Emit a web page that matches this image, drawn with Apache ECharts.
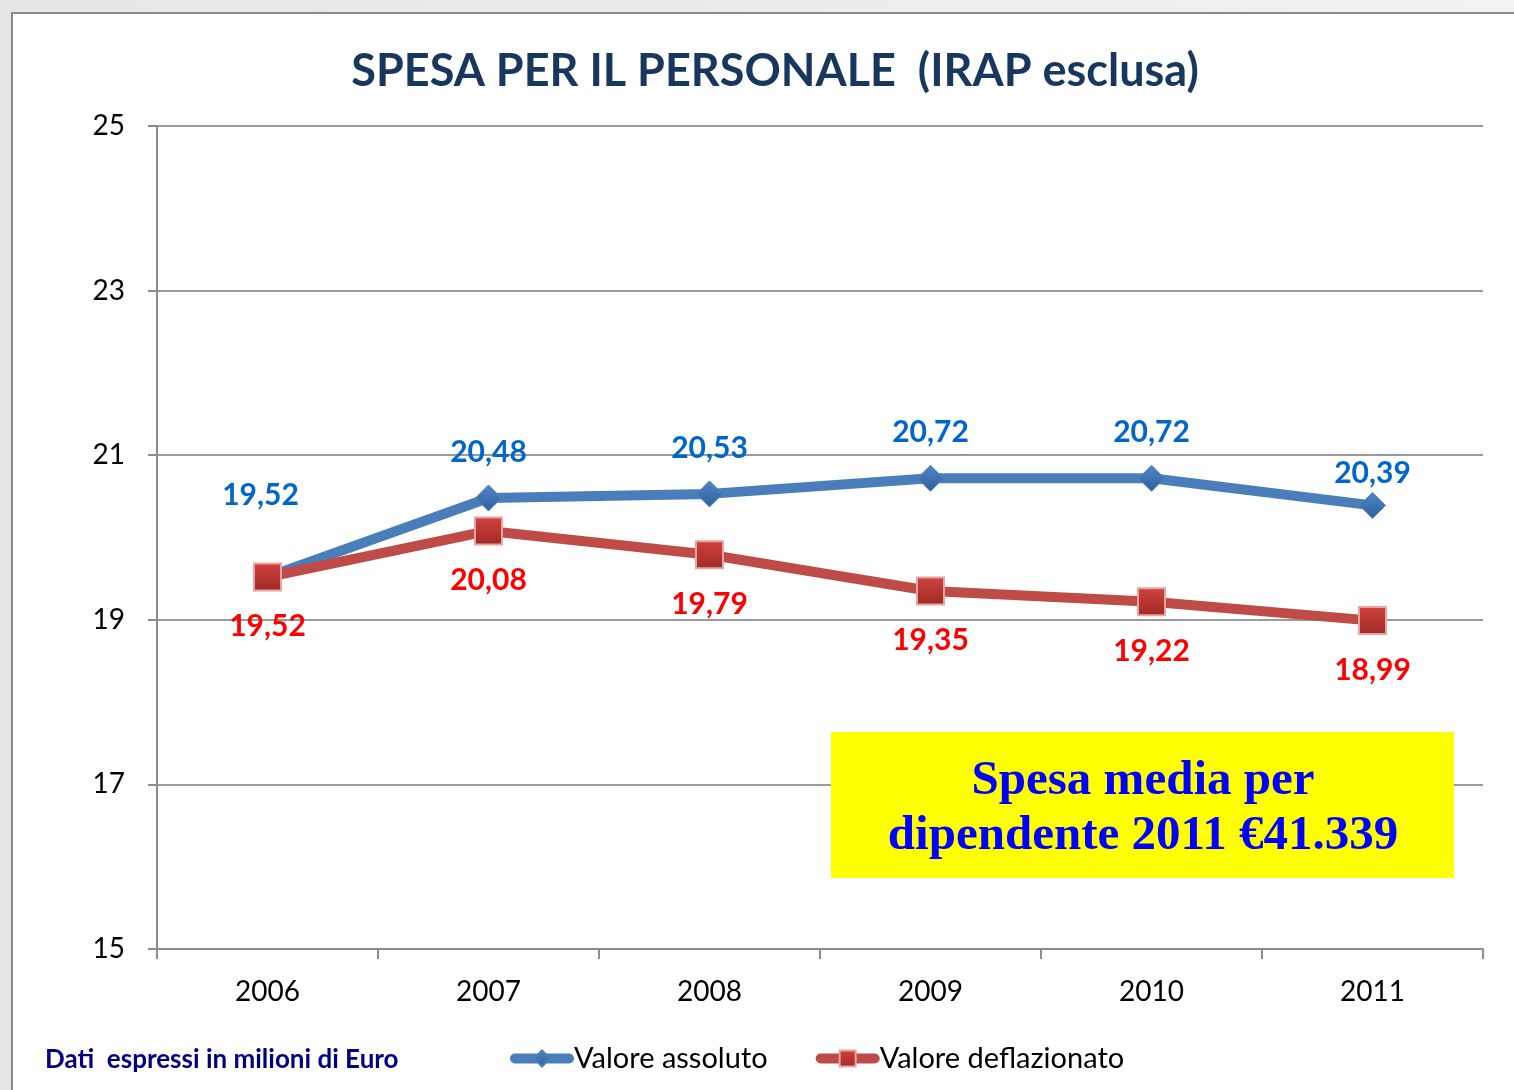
<!DOCTYPE html>
<html><head><meta charset="utf-8">
<script src="https://cdn.jsdelivr.net/npm/echarts@6/dist/echarts.min.js"></script>
<style>
html,body{margin:0;padding:0;width:1514px;height:1090px;overflow:hidden;background:linear-gradient(90deg,#e6e6e6,#f2f2f2);}
#frame{position:absolute;left:11px;top:12px;width:1510px;height:1090px;background:#fff;border-left:2px solid #8a8a8a;border-top:2px solid #8a8a8a;}
#chart{position:absolute;left:0;top:0;width:1514px;height:1090px;}
</style></head>
<body><div id="frame"></div><div id="chart"></div>
<script>
const categories = ['2006','2007','2008','2009','2010','2011'];
const valoreAssoluto = [19.52, 20.48, 20.53, 20.72, 20.72, 20.39];
const valoreDeflazionato = [19.52, 20.08, 19.79, 19.35, 19.22, 18.99];
const seriesNames = ['Valore assoluto', 'Valore deflazionato'];
const titleText = 'SPESA PER IL PERSONALE  (IRAP esclusa)';
const noteText = 'Dati  espressi in milioni di Euro';
const boxLines = ['Spesa media per', 'dipendente 2011 €41.339'];

const fmt = v => v.toFixed(2).replace('.', ',');
const chart = echarts.init(document.getElementById('chart'));
const font = 'Lato, "Open Sans", sans-serif';

const blueData = valoreAssoluto.map((v, i) => {
  if (i === 0) return {value: v, label: {offset: [-7, -36]}};
  if (i === categories.length - 1) return {value: v, label: {offset: [0, 13]}};
  return v;
});

chart.setOption({
  animation: false,
  title: {
    text: titleText, left: 770, textAlign: 'center', top: 44,
    textStyle: {fontFamily: font, fontWeight: 'bold', fontSize: 45, color: '#17375e'}
  },
  grid: {left: 157, right: 31, top: 126, bottom: 141},
  legend: {
    data: seriesNames, left: 505, top: 1039, itemWidth: 54, itemHeight: 20, itemGap: 48,
    lineStyle: {width: 10, cap: 'round'},
    textStyle: {fontFamily: font, fontSize: 29, color: '#000', padding: [0, 0, 0, 0]}
  },
  xAxis: {
    type: 'category', data: categories, boundaryGap: true,
    axisLine: {lineStyle: {color: '#8c8c8c', width: 2}},
    axisTick: {show: true, length: 10, lineStyle: {color: '#8c8c8c', width: 2}},
    axisLabel: {margin: 29, fontFamily: font, fontSize: 28, color: '#000'}
  },
  yAxis: {
    type: 'value', min: 15, max: 25, interval: 2,
    axisLine: {show: true, lineStyle: {color: '#8c8c8c', width: 2}},
    axisTick: {show: true, length: 9, lineStyle: {color: '#8c8c8c', width: 2}},
    splitLine: {lineStyle: {color: '#9a9a9a', width: 2}},
    axisLabel: {margin: 32, fontFamily: font, fontSize: 28, color: '#000'}
  },
  series: [
    {
      name: seriesNames[0], type: 'line', data: blueData, z: 3,
      lineStyle: {color: '#4a7ebb', width: 10},
      itemStyle: {color: new echarts.graphic.LinearGradient(0,0,0,1,[{offset:0,color:'#4f86c8'},{offset:1,color:'#2f5f9e'}]), borderColor: '#4a7ebb', borderWidth: 1},
      symbol: 'diamond', symbolSize: 26, showAllSymbol: true,
      label: {show: true, position: 'top', distance: 17, formatter: p => fmt(p.value),
        fontFamily: font, fontWeight: 'bold', fontSize: 30, color: '#0066cc'}
    },
    {
      name: seriesNames[1], type: 'line', data: valoreDeflazionato, z: 4,
      lineStyle: {color: '#be4b48', width: 10},
      itemStyle: {color: new echarts.graphic.LinearGradient(0,0,0,1,[{offset:0,color:'#d2423c'},{offset:1,color:'#9e2a27'}]), borderColor: '#e8a4a2', borderWidth: 2},
      symbol: 'rect', symbolSize: 27, showAllSymbol: true,
      label: {show: true, position: 'bottom', distance: 20, formatter: p => fmt(p.value),
        fontFamily: font, fontWeight: 'bold', fontSize: 30, color: '#ff0000'}
    }
  ],
  graphic: [
    {type: 'rect', left: 831, top: 732, shape: {width: 623, height: 146}, style: {fill: '#ffff00'}, z: 10},
    {type: 'text', position: [1143, 781], z: 11, style: {text: boxLines[0], x: 0, y: 0, align: 'center', verticalAlign: 'middle',
      font: 'bold 49px "Liberation Serif", "Times New Roman", serif', fill: '#0000ff'}},
    {type: 'text', position: [1143, 836], z: 11, style: {text: boxLines[1], x: 0, y: 0, align: 'center', verticalAlign: 'middle',
      font: 'bold 49px "Liberation Serif", "Times New Roman", serif', fill: '#0000ff'}},
    {type: 'text', position: [45, 1060], z: 11, style: {text: noteText, x: 0, y: 0, align: 'left', verticalAlign: 'middle',
      font: 'bold 26px Lato, "Open Sans", sans-serif', fill: '#000080'}}
  ]
});
</script></body></html>
